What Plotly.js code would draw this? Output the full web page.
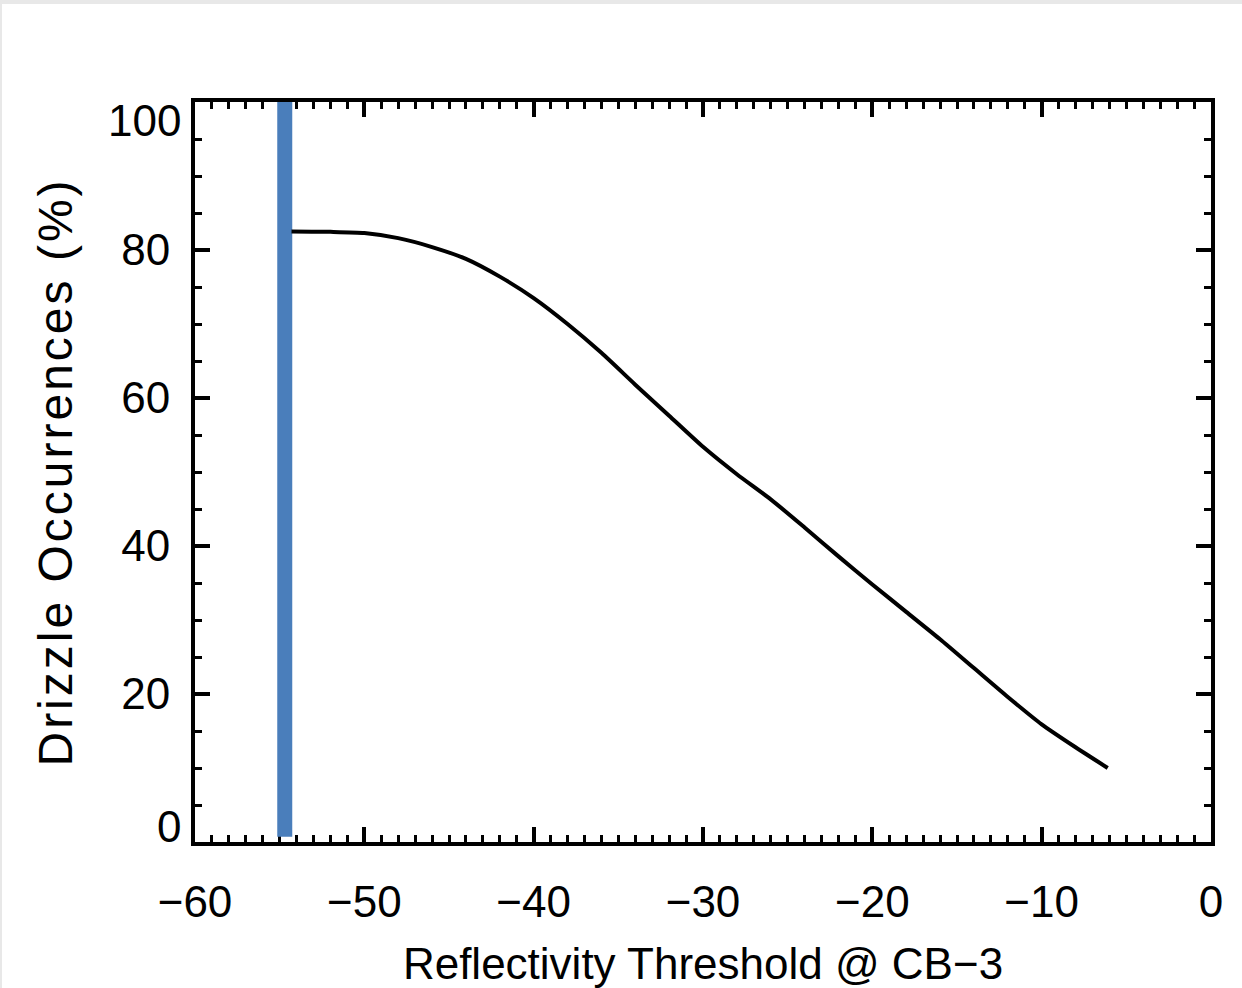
<!DOCTYPE html>
<html>
<head>
<meta charset="utf-8">
<script src="https://cdn.plot.ly/plotly-3.0.1.min.js"></script>
<style>
  html, body { margin: 0; padding: 0; background: #e8e8e8; width: 1242px; height: 988px; overflow: hidden; }
  #chart { position: absolute; left: 2px; top: 4px; width: 1240px; height: 984px; background: #fff; }
  #chart .ytitle { letter-spacing: 3px; }
</style>
</head>
<body>
<div id="chart"></div>
<script>
// Drizzle occurrence curve
const thresholdX = [-54.3, -52, -50, -48, -46, -44, -42, -40, -38, -36, -34, -32, -30, -28, -26, -24, -22, -20, -18, -16, -14, -12, -10, -8, -6.1];
const occurrenceY = [82.5, 82.45, 82.3, 81.6, 80.4, 78.8, 76.4, 73.5, 70.0, 66.1, 61.8, 57.6, 53.4, 49.7, 46.3, 42.5, 38.6, 34.8, 31.1, 27.4, 23.5, 19.6, 15.9, 12.8, 10.0];
// Vertical marker line
const markerX = [-54.7, -54.7];
const markerY = [0.7, 100];
// Axis ticks
const xTickVals = [-60, -50, -40, -30, -20, -10, 0];
const xTickText = ['\u221260', '\u221250', '\u221240', '\u221230', '\u221220', '\u221210', '0'];
const yTickVals = [20, 40, 60, 80];
const yTickText = ['20', '40', '60', '80'];
const yEndVals = [0, 100];
const yEndText = ['0', '100'];

const FONT = 'Liberation Sans, Arial, sans-serif';

const traces = [
  { x: markerX, y: markerY, mode: 'lines', line: { color: 'rgb(74,126,187)', width: 15 }, hoverinfo: 'skip', showlegend: false },
  { x: thresholdX, y: occurrenceY, mode: 'lines', line: { color: '#000', width: 4, shape: 'spline', smoothing: 0.6 }, showlegend: false }
];

const axisCommon = {
  showline: true, linecolor: '#000', linewidth: 4, mirror: 'allticks',
  ticks: 'inside', tickcolor: '#000', tickwidth: 4, ticklen: 15,
  showgrid: false, zeroline: false, layer: 'below traces',
  tickfont: { family: FONT, size: 44, color: '#000' }
};

const layout = {
  width: 1240, height: 984,
  paper_bgcolor: '#fff', plot_bgcolor: '#fff',
  margin: { l: 192.5, r: 30.5, t: 98, b: 146 },
  showlegend: false,
  xaxis: Object.assign({}, axisCommon, {
    range: [-60, 0], tickmode: 'array', tickvals: xTickVals, ticktext: xTickText,
    minor: { dtick: 1, ticks: 'inside', ticklen: 7, tickwidth: 3, tickcolor: '#000', showgrid: false },
    ticklabelstandoff: 18,
    title: { text: 'Reflectivity Threshold @ CB\u22123', font: { family: FONT, size: 44, color: '#000' }, standoff: 27 },
    automargin: false
  }),
  yaxis: Object.assign({}, axisCommon, {
    range: [0, 100], tickmode: 'array', tickvals: yTickVals, ticktext: yTickText,
    minor: { dtick: 5, ticks: 'inside', ticklen: 7, tickwidth: 3, tickcolor: '#000', showgrid: false },
    ticklabelstandoff: 12,
    title: { text: 'Drizzle Occurrences (%)', font: { family: FONT, size: 48, color: '#000' }, standoff: 34 },
    automargin: false
  }),
  annotations: yEndVals.map((v, i) => ({
    xref: 'paper', x: 0, xanchor: 'right', xshift: -12,
    yref: 'y', y: v, yanchor: v === 0 ? 'bottom' : 'top',
    yshift: v === 0 ? -11 : 8,
    text: yEndText[i], showarrow: false,
    font: { family: FONT, size: 44, color: '#000' }
  }))
};

Plotly.newPlot('chart', traces, layout, { displayModeBar: false, staticPlot: true });
</script>
</body>
</html>
